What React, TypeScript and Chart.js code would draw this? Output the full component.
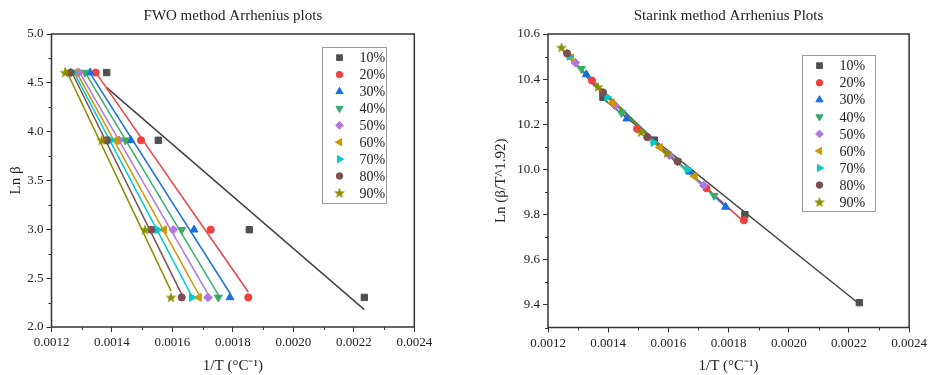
import React, { useEffect, useRef } from 'react';
import { Chart, registerables } from 'chart.js';
import { drawPoint } from 'chart.js/helpers';

Chart.register(...registerables);

// ---------------- data ----------------
const seriesLabels = ['10%', '20%', '30%', '40%', '50%', '60%', '70%', '80%', '90%'];
const lnBeta = [4.605, 3.912, 2.996, 2.303];

const invT10 = [0.0013826, 0.0015533, 0.0018543, 0.0022347];
const invT20 = [0.0013462, 0.0014961, 0.0017266, 0.001851];
const invT30 = [0.0013274, 0.001462, 0.0016714, 0.0017905];
const invT40 = [0.0013108, 0.0014441, 0.0016307, 0.0017518];
const invT50 = [0.001291, 0.0014233, 0.0016029, 0.0017177];
const invT60 = [0.0012777, 0.0014134, 0.0015721, 0.0016879];
const invT70 = [0.0012711, 0.0013968, 0.00155, 0.0016638];
const invT80 = [0.0012635, 0.0013826, 0.0015301, 0.0016307];
const invT90 = [0.0012447, 0.0013661, 0.0015093, 0.0015953];

const starink10 = [10.32, 10.13, 9.8, 9.41];
const starink20 = [10.394, 10.18, 9.917, 9.775];
const starink30 = [10.421, 10.225, 9.99, 9.834];
const starink40 = [10.446, 10.251, 10.036, 9.884];
const starink50 = [10.473, 10.282, 10.063, 9.929];
const starink60 = [10.494, 10.295, 10.097, 9.969];
const starink70 = [10.502, 10.32, 10.12, 10.0];
const starink80 = [10.514, 10.341, 10.143, 10.036];
const starink90 = [10.54, 10.366, 10.165, 10.073];

const xMajorTicks = [0.0012, 0.0014, 0.0016, 0.0018, 0.002, 0.0022, 0.0024];
const xMinorTicks = [0.0013, 0.0015, 0.0017, 0.0019, 0.0021, 0.0023];
const fwoMajorTicks = [2.0, 2.5, 3.0, 3.5, 4.0, 4.5, 5.0];
const fwoMinorTicks = [2.25, 2.75, 3.25, 3.75, 4.25, 4.75];
const starMajorTicks = [9.4, 9.6, 9.8, 10.0, 10.2, 10.4, 10.6];
const starMinorTicks = [9.3, 9.5, 9.7, 9.9, 10.1, 10.3, 10.5];

const invTSeries = [invT10, invT20, invT30, invT40, invT50, invT60, invT70, invT80, invT90];
const starinkSeries = [starink10, starink20, starink30, starink40, starink50, starink60, starink70, starink80, starink90];

const colors = ['#4f4f4f', '#f14040', '#1a6fdf', '#37ad6b', '#b177de', '#cc9900', '#00cbcc', '#7d4e4e', '#8e8e00'];
const lineColors = ['#444444', '#f14040', '#1a6fdf', '#37ad6b', '#b177de', '#cc9900', '#00cbcc', '#7d4e4e', '#8e8e00'];
const markerStyles = ['rect', 'circle', 'triangle', 'triangle', 'rectRot', 'triangle', 'triangle', 'circle', 'star'];
const markerRotations = [0, 0, 0, 180, 0, 270, 90, 0, 0];
const markerRadii = [4.5, 3.6, 4.6, 4.6, 4.3, 4.6, 4.6, 3.6, 5];

const FONT = "'Liberation Serif', 'Times New Roman', serif";
const TEXT = '#222222';

function makeStar(color: string): HTMLCanvasElement {
  const c = document.createElement('canvas');
  c.width = 12;
  c.height = 12;
  const ctx = c.getContext('2d')!;
  ctx.fillStyle = color;
  ctx.beginPath();
  const cx = 6, cy = 6.4, ro = 5.8, ri = 2.4;
  for (let i = 0; i < 10; i++) {
    const r = i % 2 === 0 ? ro : ri;
    const a = -Math.PI / 2 + (i * Math.PI) / 5;
    const px = cx + r * Math.cos(a);
    const py = cy + r * Math.sin(a);
    if (i === 0) ctx.moveTo(px, py);
    else ctx.lineTo(px, py);
  }
  ctx.closePath();
  ctx.fill();
  return c;
}

function fit(xs: number[], ys: number[]) {
  const n = xs.length;
  const mx = xs.reduce((a, b) => a + b, 0) / n;
  const my = ys.reduce((a, b) => a + b, 0) / n;
  let sxy = 0, sxx = 0;
  for (let i = 0; i < n; i++) {
    sxy += (xs[i] - mx) * (ys[i] - my);
    sxx += (xs[i] - mx) * (xs[i] - mx);
  }
  const slope = sxy / sxx;
  const icpt = my - slope * mx;
  const x0 = Math.min(...xs);
  const x1 = Math.max(...xs);
  return [
    { x: x0, y: icpt + slope * x0 },
    { x: x1, y: icpt + slope * x1 },
  ];
}

const decorPlugin = {
  id: 'decor',
  afterDraw(chart: any, _args: any, opts: any) {
    const { ctx, chartArea } = chart;
    const { left, right, top, bottom } = chartArea;
    ctx.save();
    // frame
    ctx.strokeStyle = '#333333';
    ctx.lineWidth = 1.5;
    ctx.strokeRect(left, top, right - left, bottom - top);
    // minor ticks
    ctx.lineWidth = 1;
    ctx.beginPath();
    const xs = chart.scales.x;
    const ys = chart.scales.y;
    for (const v of opts.xMinor) {
      const px = Math.round(xs.getPixelForValue(v)) + 0.5;
      ctx.moveTo(px, bottom);
      ctx.lineTo(px, bottom + 3);
    }
    for (const v of opts.yMinor) {
      const py = Math.round(ys.getPixelForValue(v)) + 0.5;
      ctx.moveTo(left, py);
      ctx.lineTo(left - 3, py);
    }
    ctx.stroke();
    // title
    ctx.fillStyle = TEXT;
    ctx.font = `15px ${FONT}`;
    ctx.textAlign = 'center';
    ctx.textBaseline = 'middle';
    ctx.fillText(opts.title, (left + right) / 2, 16);
    // legend
    const L = opts.legend;
    ctx.fillStyle = '#ffffff';
    ctx.fillRect(L.x0, L.y0, L.x1 - L.x0, L.y1 - L.y0);
    ctx.strokeStyle = '#9a9a9a';
    ctx.lineWidth = 1;
    ctx.strokeRect(L.x0, L.y0, L.x1 - L.x0, L.y1 - L.y0);
    ctx.font = `14px ${FONT}`;
    ctx.textAlign = 'left';
    ctx.textBaseline = 'middle';
    const pointDs = chart.data.datasets.filter((d: any) => d._isPoints);
    pointDs.forEach((d: any, i: number) => {
      const y = L.firstY + i * L.step;
      ctx.fillStyle = d.backgroundColor;
      ctx.strokeStyle = d.borderColor;
      drawPoint(ctx, {
        pointStyle: d.pointStyle,
        rotation: d.pointRotation,
        radius: d.pointRadius * 0.9,
        borderWidth: d.pointStyle instanceof HTMLCanvasElement ? 0 : 1,
      } as any, L.markerX, y);
      ctx.fillStyle = TEXT;
      ctx.fillText(d.label, L.textX, y + 1);
    });
    ctx.restore();
  },
};

function buildConfig(
  ySeries: number[][],
  starImg: HTMLCanvasElement,
  o: any
): any {
  const pointSets: any[] = [];
  const lineSets: any[] = [];
  seriesLabels.forEach((label, i) => {
    const xsArr = invTSeries[i];
    const ysArr = ySeries[i];
    const pts = xsArr.map((x, k) => ({ x, y: ysArr[k] }));
    const style = markerStyles[i] === 'star' ? starImg : markerStyles[i];
    pointSets.push({
      label,
      _isPoints: true,
      data: pts,
      showLine: false,
      pointStyle: style,
      pointRotation: markerRotations[i],
      pointRadius: markerRadii[i],
      backgroundColor: colors[i],
      borderColor: colors[i],
      pointBorderWidth: markerStyles[i] === 'star' ? 0 : 1,
      order: 10 - i,
    });
    lineSets.push({
      label: label + ' fit',
      data: fit(xsArr, ysArr),
      showLine: true,
      borderColor: lineColors[i],
      borderWidth: 1.5,
      pointRadius: 0,
      order: 100 - i,
    });
  });

  const tickFont = { family: FONT, size: 13 };
  const titleFont = { family: FONT, size: 15 };

  return {
    type: 'scatter',
    data: { datasets: [...pointSets, ...lineSets] },
    options: {
      animation: false,
      responsive: false,
      maintainAspectRatio: false,
      events: [],
      layout: { padding: { left: 0, top: o.top, right: o.right, bottom: 0 } },
      plugins: {
        legend: { display: false },
        tooltip: { enabled: false },
        title: { display: false },
        decor: {
          xMinor: xMinorTicks,
          yMinor: o.yMinor,
          title: o.title,
          legend: o.legend,
        },
      },
      scales: {
        x: {
          type: 'linear',
          min: 0.0012,
          max: 0.0024,
          afterFit: (s: any) => { s.height = o.xHeight; },
          afterBuildTicks: (s: any) => { s.ticks = xMajorTicks.map((v) => ({ value: v })); },
          ticks: {
            font: tickFont,
            color: TEXT,
            padding: 3,
            maxRotation: 0,
            autoSkip: false,
            callback: (v: any) => Number(v).toFixed(4),
          },
          grid: { display: true, drawOnChartArea: false, drawTicks: true, tickLength: 5, color: '#333333', lineWidth: 1 },
          border: { display: false },
          title: { display: true, text: '1/T (°C⁻¹)', font: titleFont, color: TEXT, padding: { top: 0, bottom: 0 } },
        },
        y: {
          type: 'linear',
          min: o.yMin,
          max: o.yMax,
          afterFit: (s: any) => { s.width = o.yWidth; },
          afterBuildTicks: (s: any) => { s.ticks = o.yMajor.map((v: number) => ({ value: v })); },
          ticks: {
            font: tickFont,
            color: TEXT,
            padding: 3,
            autoSkip: false,
            callback: (v: any) => Number(v).toFixed(1),
          },
          grid: { display: true, drawOnChartArea: false, drawTicks: true, tickLength: 5, color: '#333333', lineWidth: 1 },
          border: { display: false },
          title: { display: true, text: o.yTitle, font: titleFont, color: TEXT, padding: { top: o.yTitlePad, bottom: 0 } },
        },
      },
    },
    plugins: [decorPlugin],
  };
}

export default function App() {
  const leftRef = useRef<HTMLCanvasElement>(null);
  const rightRef = useRef<HTMLCanvasElement>(null);

  useEffect(() => {
    document.body.style.margin = '0';
    const starImg = makeStar(colors[8]);
    const fwoSeries = invTSeries.map(() => lnBeta);
    const c1 = new Chart(leftRef.current as HTMLCanvasElement, buildConfig(fwoSeries, starImg, {
      top: 34,
      right: 465 - 414.3,
      xHeight: 48,
      yWidth: 51.5,
      yMin: 2.0,
      yMax: 5.0,
      yMajor: fwoMajorTicks,
      yMinor: fwoMinorTicks,
      yTitle: 'Ln β',
      yTitlePad: 7,
      title: 'FWO method Arrhenius plots',
      legend: { x0: 322.5, y0: 47.5, x1: 386.5, y1: 203.5, markerX: 339.5, textX: 359.5, firstY: 57.7, step: 16.9 },
    }));
    const c2 = new Chart(rightRef.current as HTMLCanvasElement, buildConfig(starinkSeries, starImg, {
      top: 34,
      right: 465 - 447,
      xHeight: 47.5,
      yWidth: 83,
      yMin: 9.3,
      yMax: 10.6,
      yMajor: starMajorTicks,
      yMinor: starMinorTicks,
      yTitle: 'Ln (β/T^1.92)',
      yTitlePad: 27,
      title: 'Starink method Arrhenius Plots',
      legend: { x0: 337.5, y0: 55.5, x1: 410.5, y1: 211.5, markerX: 354.5, textX: 374.5, firstY: 65.7, step: 17.05 },
    }));
    return () => {
      c1.destroy();
      c2.destroy();
    };
  }, []);

  return (
    <div style={{ position: 'relative', width: 930, height: 375, background: '#ffffff', overflow: 'hidden' }}>
      <canvas ref={leftRef} width={465} height={375} style={{ position: 'absolute', left: 0, top: 0, width: 465, height: 375 }} />
      <canvas ref={rightRef} width={465} height={375} style={{ position: 'absolute', left: 465, top: 0, width: 465, height: 375 }} />
    </div>
  );
}
